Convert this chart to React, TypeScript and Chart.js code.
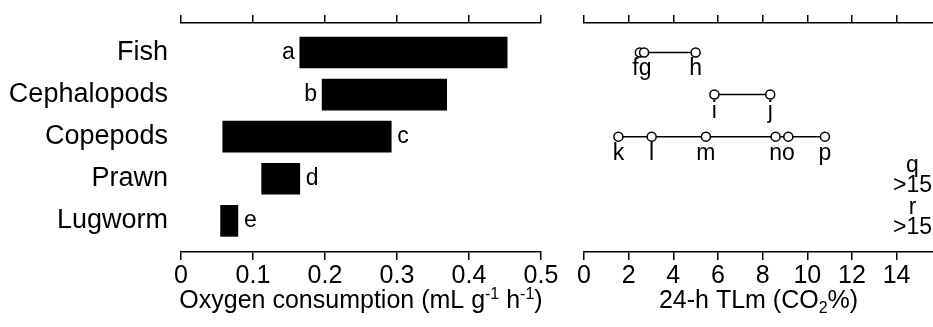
import React, { useEffect, useRef } from 'react';
import { Chart, registerables } from 'chart.js';
Chart.register(...registerables);

const categories = ['Fish', 'Cephalopods', 'Copepods', 'Prawn', 'Lugworm'];
const o2Low = [0.165, 0.196, 0.058, 0.112, 0.055];
const o2High = [0.453, 0.369, 0.292, 0.165, 0.079];
const o2Letters = ['a', 'b', 'c', 'd', 'e'];
const o2LetterSide = ['left', 'left', 'right', 'right', 'right'];
const o2Ticks = [0, 0.1, 0.2, 0.3, 0.4, 0.5];

const fishTLm = [2.5, 2.69, 5.0];
const fishTLmLetters = ['f', 'g', 'h'];
const cephTLm = [5.84, 8.34];
const cephTLmLetters = ['i', 'j'];
const copeTLm = [1.54, 3.03, 5.46, 8.58, 9.15, 10.79];
const copeTLmLetters = ['k', 'l', 'm', 'n', 'o', 'p'];
const prawnTLmText = ['q', '>15'];
const lugTLmText = ['r', '>15'];
const tlmTicks = [0, 2, 4, 6, 8, 10, 12, 14];

const FONT = '"Liberation Sans", Arial, sans-serif';
const Y_MIN = -0.7;
const Y_MAX = 4.74;

type Seg = [string, ('sup' | 'sub')?];

function drawRich(ctx: CanvasRenderingContext2D, segs: Seg[], cx: number, baseline: number, size: number) {
  const small = Math.round(size * 0.62);
  let total = 0;
  const widths: number[] = [];
  segs.forEach(([t, k]) => {
    ctx.font = `${k ? small : size}px ${FONT}`;
    const w = ctx.measureText(t).width;
    widths.push(w);
    total += w;
  });
  let x = cx - total / 2;
  ctx.fillStyle = '#000';
  ctx.textAlign = 'left';
  ctx.textBaseline = 'alphabetic';
  segs.forEach(([t, k], i) => {
    ctx.font = `${k ? small : size}px ${FONT}`;
    const dy = k === 'sup' ? -size * 0.36 : k === 'sub' ? size * 0.2 : 0;
    ctx.fillText(t, x, baseline + dy);
    x += widths[i];
  });
}

const axisGrid = {
  display: true,
  drawOnChartArea: false,
  drawTicks: true,
  tickLength: 8,
  tickWidth: 1.5,
  tickColor: '#000',
  color: '#000',
  lineWidth: 1.5,
};
const axisBorder = { display: true, color: '#000', width: 1.5 };

const zeroPad = (s: any) => {
  s.paddingLeft = 0;
  s.paddingRight = 0;
  s.paddingTop = 0;
  s.paddingBottom = 0;
};

export default function App() {
  const leftRef = useRef<HTMLCanvasElement>(null);
  const rightRef = useRef<HTMLCanvasElement>(null);

  useEffect(() => {
    const leftPlugin = {
      id: 'leftDeco',
      afterDraw(chart: any) {
        const ctx = chart.ctx as CanvasRenderingContext2D;
        const xs = chart.scales.x;
        const ys = chart.scales.y;
        ctx.save();
        ctx.font = `23px ${FONT}`;
        ctx.fillStyle = '#000';
        ctx.textBaseline = 'middle';
        categories.forEach((_, i) => {
          const y = ys.getPixelForValue(i);
          if (o2LetterSide[i] === 'left') {
            ctx.textAlign = 'right';
            ctx.fillText(o2Letters[i], xs.getPixelForValue(o2Low[i]) - 5, y);
          } else {
            ctx.textAlign = 'left';
            ctx.fillText(o2Letters[i], xs.getPixelForValue(o2High[i]) + 6, y);
          }
        });
        const ca = chart.chartArea;
        drawRich(
          ctx,
          [['Oxygen consumption (mL g'], ['-1', 'sup'], [' h'], ['-1', 'sup'], [')']],
          (ca.left + ca.right) / 2,
          308,
          25
        );
        ctx.restore();
      },
    };

    const left = new Chart(leftRef.current!, {
      type: 'bar',
      data: {
        datasets: [
          {
            data: categories.map((c, i) => ({ x: [o2Low[i], o2High[i]], y: i })) as any,
            backgroundColor: '#000',
            borderWidth: 0,
            barThickness: 31,
          },
        ],
      },
      options: {
        animation: false,
        responsive: true,
        maintainAspectRatio: false,
        indexAxis: 'y',
        layout: { autoPadding: false, padding: { left: 0, right: 19, top: 0, bottom: 0 } },
        plugins: { legend: { display: false }, tooltip: { enabled: false } },
        scales: {
          y: {
            type: 'linear',
            min: Y_MIN,
            max: Y_MAX,
            reverse: true,
            offset: false,
            afterBuildTicks: (s: any) => {
              s.ticks = categories.map((_, i) => ({ value: i }));
            },
            afterFit: (s: any) => {
              s.width = 181;
              zeroPad(s);
            },
            ticks: {
              callback: (v: any) => categories[v as number],
              font: { family: FONT, size: 27 },
              color: '#000',
              padding: 13,
            },
            grid: { display: false, drawTicks: false, offset: false },
            border: { display: false },
          },
          x: {
            type: 'linear',
            position: 'bottom',
            min: 0,
            max: 0.5,
            afterBuildTicks: (s: any) => {
              s.ticks = o2Ticks.map((v) => ({ value: v }));
            },
            afterFit: (s: any) => {
              s.height = 75;
              zeroPad(s);
            },
            ticks: {
              callback: (v: any) => String(v),
              font: { family: FONT, size: 25 },
              color: '#000',
              padding: 1,
              maxRotation: 0,
            },
            grid: axisGrid as any,
            border: axisBorder,
          },
          x2: {
            type: 'linear',
            position: 'top',
            min: 0,
            max: 0.5,
            afterBuildTicks: (s: any) => {
              s.ticks = o2Ticks.map((v) => ({ value: v }));
            },
            afterFit: (s: any) => {
              s.height = 23;
              zeroPad(s);
            },
            ticks: { display: false },
            grid: axisGrid as any,
            border: axisBorder,
          },
        },
      },
      plugins: [leftPlugin],
    } as any);

    const series = [
      { vals: fishTLm, letters: fishTLmLetters, row: 0 },
      { vals: cephTLm, letters: cephTLmLetters, row: 1 },
      { vals: copeTLm, letters: copeTLmLetters, row: 2 },
    ];
    const textRows = [
      { lines: prawnTLmText, row: 3 },
      { lines: lugTLmText, row: 4 },
    ];

    const rightPlugin = {
      id: 'rightDeco',
      afterDraw(chart: any) {
        const ctx = chart.ctx as CanvasRenderingContext2D;
        const xs = chart.scales.x;
        const ys = chart.scales.y;
        const ca = chart.chartArea;
        ctx.save();
        ctx.font = `23px ${FONT}`;
        ctx.fillStyle = '#000';
        ctx.textBaseline = 'alphabetic';
        ctx.textAlign = 'center';
        series.forEach((s) => {
          const y = ys.getPixelForValue(s.row);
          const groups: { text: string; px: number[] }[] = [];
          s.vals.forEach((v, i) => {
            const px = xs.getPixelForValue(v);
            const last = groups[groups.length - 1];
            if (last && px - last.px[last.px.length - 1] < 16) {
              last.text += s.letters[i];
              last.px.push(px);
            } else {
              groups.push({ text: s.letters[i], px: [px] });
            }
          });
          groups.forEach((g) => {
            const cx = g.px.reduce((a, b) => a + b, 0) / g.px.length;
            ctx.fillText(g.text, cx, y + 23);
          });
        });
        textRows.forEach((r) => {
          const y = ys.getPixelForValue(r.row);
          const w = ctx.measureText(r.lines[1]).width;
          const cx = ca.right - 1 - w / 2;
          ctx.fillText(r.lines[0], cx, y - 7);
          ctx.fillText(r.lines[1], cx, y + 13);
        });
        drawRich(ctx, [['24-h TLm (CO'], ['2', 'sub'], ['%)']], (ca.left + ca.right) / 2, 308, 25);
        ctx.restore();
      },
    };

    const right = new Chart(rightRef.current!, {
      type: 'scatter',
      data: {
        datasets: series.map((s) => ({
          data: s.vals.map((v) => ({ x: v, y: s.row })),
          showLine: true,
          borderColor: '#000',
          borderWidth: 1.5,
          pointRadius: 4.5,
          pointBackgroundColor: '#fff',
          pointBorderColor: '#000',
          pointBorderWidth: 1.5,
        })),
      },
      options: {
        animation: false,
        responsive: true,
        maintainAspectRatio: false,
        layout: { autoPadding: false, padding: { left: 24, right: 0, top: 0, bottom: 0 } },
        plugins: { legend: { display: false }, tooltip: { enabled: false } },
        scales: {
          y: {
            type: 'linear',
            min: Y_MIN,
            max: Y_MAX,
            reverse: true,
            display: false,
          },
          x: {
            type: 'linear',
            position: 'bottom',
            min: 0,
            max: 15.63,
            afterBuildTicks: (s: any) => {
              s.ticks = tlmTicks.map((v) => ({ value: v }));
            },
            afterFit: (s: any) => {
              s.height = 75;
              zeroPad(s);
            },
            ticks: {
              callback: (v: any) => String(v),
              font: { family: FONT, size: 25 },
              color: '#000',
              padding: 1,
              maxRotation: 0,
            },
            grid: axisGrid as any,
            border: axisBorder,
          },
          x2: {
            type: 'linear',
            position: 'top',
            min: 0,
            max: 15.63,
            afterBuildTicks: (s: any) => {
              s.ticks = tlmTicks.map((v) => ({ value: v }));
            },
            afterFit: (s: any) => {
              s.height = 23;
              zeroPad(s);
            },
            ticks: { display: false },
            grid: axisGrid as any,
            border: axisBorder,
          },
        },
      },
      plugins: [rightPlugin],
    } as any);

    return () => {
      left.destroy();
      right.destroy();
    };
  }, []);

  return (
    <div style={{ position: 'absolute', left: 0, top: 0, width: 933, height: 327, background: '#fff' }}>
      <div style={{ position: 'absolute', left: 0, top: 0, width: 560, height: 327 }}>
        <canvas ref={leftRef} />
      </div>
      <div style={{ position: 'absolute', left: 560, top: 0, width: 373, height: 327 }}>
        <canvas ref={rightRef} />
      </div>
    </div>
  );
}
